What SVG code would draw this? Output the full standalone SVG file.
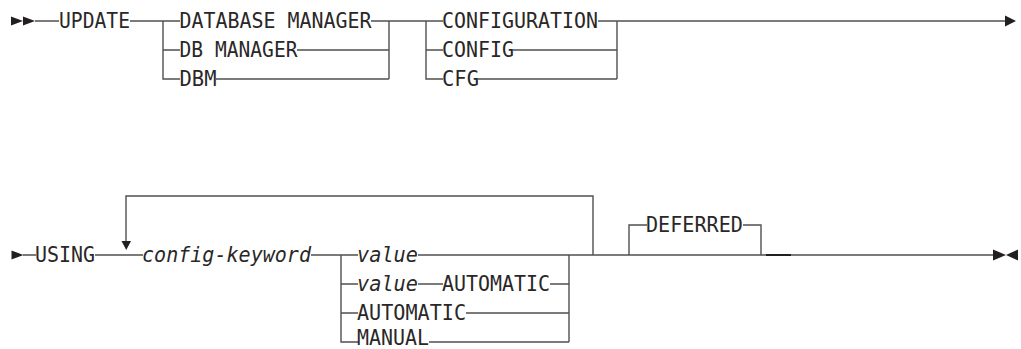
<svg xmlns="http://www.w3.org/2000/svg" width="1021" height="349" viewBox="0 0 1021 349">
<style>
.ln{fill:none;stroke:#505050;stroke-width:1.4}
.ah{fill:#231f20;stroke:none}
text{font-family:"DejaVu Sans Mono","Liberation Mono",monospace;font-size:21.5px;fill:#2a2728}
.it{font-style:italic}
</style>
<rect width="1021" height="349" fill="#ffffff"/>
<g id="connectors">
<path class="ln" d="M35 21H59M130 21H180M163 21V79H180M163 50H180M371 21H443M297 50H389M216 79H389M389 21V79M426 21V79H443M426 50H443M598 21H1006M513 50H617M478 79H617M617 21V79"/>
<path class="ln" d="M23 255H36M95 255H143M126 242V196H593V255M311 255H358M341 255V342H358M341 284H358M341 313H358M418 255H995M418 284H443M550 284H569M466 313H569M429 342H569M569 255V342M629 255V225H647M743 225H761V255"/>
<path d="M766 255H791" fill="none" stroke="#231f20" stroke-width="2"/>
<polygon class="ah" points="11,16.5 23,21 11,25.5"/>
<polygon class="ah" points="23,16.5 35,21 23,25.5"/>
<polygon class="ah" points="1005,15.5 1016,21 1005,26.5"/>
<polygon class="ah" points="11.5,250.5 23.5,255 11.5,259.5"/>
<polygon class="ah" points="121.5,241 131,241 126.25,250"/>
<polygon class="ah" points="993,249.5 1006,255 993,260.5"/>
<polygon class="ah" points="1018,249.5 1006,255 1018,260.5"/>
</g>
<g id="n-update"><text x="59" y="27.5" textLength="71" lengthAdjust="spacingAndGlyphs">UPDATE</text></g>
<g id="n-database-manager"><text x="179.5" y="27.5" textLength="192" lengthAdjust="spacingAndGlyphs">DATABASE MANAGER</text></g>
<g id="n-db-manager"><text x="179.5" y="56.5" textLength="118" lengthAdjust="spacingAndGlyphs">DB MANAGER</text></g>
<g id="n-dbm"><text x="179.5" y="85.5" textLength="37" lengthAdjust="spacingAndGlyphs">DBM</text></g>
<g id="n-configuration"><text x="442" y="27.5" textLength="156" lengthAdjust="spacingAndGlyphs">CONFIGURATION</text></g>
<g id="n-config"><text x="442" y="56.5" textLength="72" lengthAdjust="spacingAndGlyphs">CONFIG</text></g>
<g id="n-cfg"><text x="442" y="85.5" textLength="37" lengthAdjust="spacingAndGlyphs">CFG</text></g>
<g id="n-using"><text x="35" y="261.5" textLength="60" lengthAdjust="spacingAndGlyphs">USING</text></g>
<g id="n-config-keyword"><text class="it" x="142" y="261.5" textLength="169" lengthAdjust="spacingAndGlyphs">config-keyword</text></g>
<g id="n-value"><text class="it" x="357" y="261.5" textLength="61" lengthAdjust="spacingAndGlyphs">value</text></g>
<g id="n-value-automatic"><text class="it" x="357" y="290.5" textLength="61" lengthAdjust="spacingAndGlyphs">value</text><text x="442" y="290.5" textLength="108" lengthAdjust="spacingAndGlyphs">AUTOMATIC</text></g>
<g id="n-automatic"><text x="357" y="319.5" textLength="109" lengthAdjust="spacingAndGlyphs">AUTOMATIC</text></g>
<g id="n-manual"><text x="357" y="344.5" textLength="72" lengthAdjust="spacingAndGlyphs">MANUAL</text></g>
<g id="n-deferred"><text x="646" y="231.5" textLength="97" lengthAdjust="spacingAndGlyphs">DEFERRED</text></g>
</svg>
